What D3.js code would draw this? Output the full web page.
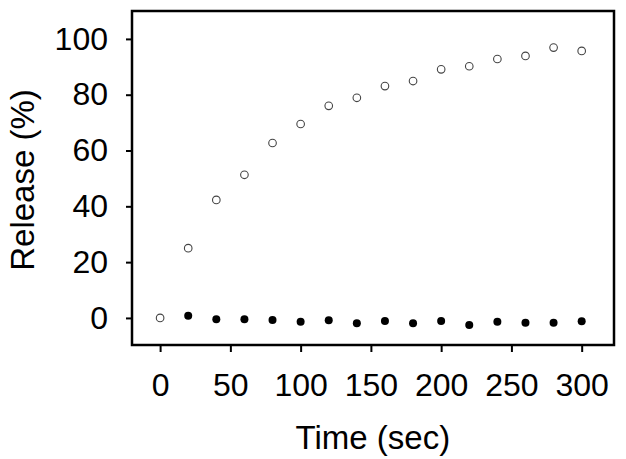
<!DOCTYPE html>
<html>
<head>
<meta charset="utf-8">
<script src="https://cdn.jsdelivr.net/npm/d3@7"></script>
<style>
  body { margin: 0; background: #fff; }
  text { font-family: "Liberation Sans", Arial, sans-serif; fill: #000; }
</style>
</head>
<body>
<div id="chart"></div>
<script>
// Release over time: open circles rise, filled circles stay near zero
const timesOpen = [0, 20, 40, 60, 80, 100, 120, 140, 160, 180, 200, 220, 240, 260, 280, 300];
const releaseOpen = [0, 25, 42.3, 51.3, 62.7, 69.5, 76, 78.9, 83.1, 84.9, 89.1, 90.2, 92.8, 93.9, 96.9, 95.7];

const timesFilled = [20, 40, 60, 80, 100, 120, 140, 160, 180, 200, 220, 240, 260, 280, 300];
const releaseFilled = [0.8, -0.5, -0.5, -0.7, -1.4, -0.8, -1.9, -1.1, -1.9, -1.1, -2.5, -1.4, -1.7, -1.7, -1.2];

const xTicks = [0, 50, 100, 150, 200, 250, 300];
const yTicks = [0, 20, 40, 60, 80, 100];

const width = 626;
const height = 459;
const margin = { top: 11, right: 12, bottom: 114, left: 132 };

const svg = d3.select("#chart")
  .append("svg")
  .attr("width", width)
  .attr("height", height);

const x = d3.scaleLinear()
  .domain([-20, 323])
  .range([margin.left, width - margin.right]);

const y = d3.scaleLinear()
  .domain([-9.7, 110])
  .range([height - margin.bottom, margin.top]);

// bottom axis
const xAxis = svg.append("g")
  .attr("transform", "translate(0," + (height - margin.bottom) + ")")
  .call(d3.axisBottom(x).tickValues(xTicks).tickSize(7).tickPadding(21).tickSizeOuter(0));

// left axis
const yAxis = svg.append("g")
  .attr("transform", "translate(" + margin.left + ",0)")
  .call(d3.axisLeft(y).tickValues(yTicks).tickSize(6).tickPadding(18).tickSizeOuter(0));

[xAxis, yAxis].forEach(g => {
  g.select(".domain").remove();
  g.selectAll(".tick line").attr("stroke", "#000").attr("stroke-width", 2);
  g.selectAll(".tick text")
    .style("font-size", "32px")
    .attr("fill", "#000");
});
xAxis.selectAll(".tick text").attr("dy", "0.71em");

// frame around plot
svg.append("rect")
  .attr("x", margin.left)
  .attr("y", margin.top)
  .attr("width", width - margin.left - margin.right)
  .attr("height", height - margin.top - margin.bottom)
  .attr("fill", "none")
  .attr("stroke", "#000")
  .attr("stroke-width", 2.5);

// filled series
svg.append("g")
  .selectAll("circle")
  .data(timesFilled)
  .enter()
  .append("circle")
  .attr("cx", d => x(d))
  .attr("cy", (d, i) => y(releaseFilled[i]))
  .attr("r", 4)
  .attr("fill", "#000");

// open series
svg.append("g")
  .selectAll("circle")
  .data(timesOpen)
  .enter()
  .append("circle")
  .attr("cx", d => x(d))
  .attr("cy", (d, i) => y(releaseOpen[i]))
  .attr("r", 3.8)
  .attr("fill", "#fff")
  .attr("stroke", "#444")
  .attr("stroke-width", 1.1);

// axis titles
svg.append("text")
  .attr("x", (x(0) + x(300)) / 2 + 2)
  .attr("y", 449)
  .attr("text-anchor", "middle")
  .style("font-size", "33px")
  .text("Time (sec)");

svg.append("text")
  .attr("transform", "translate(34,180) rotate(-90)")
  .attr("text-anchor", "middle")
  .style("font-size", "33px")
  .text("Release (%)");
</script>
</body>
</html>
